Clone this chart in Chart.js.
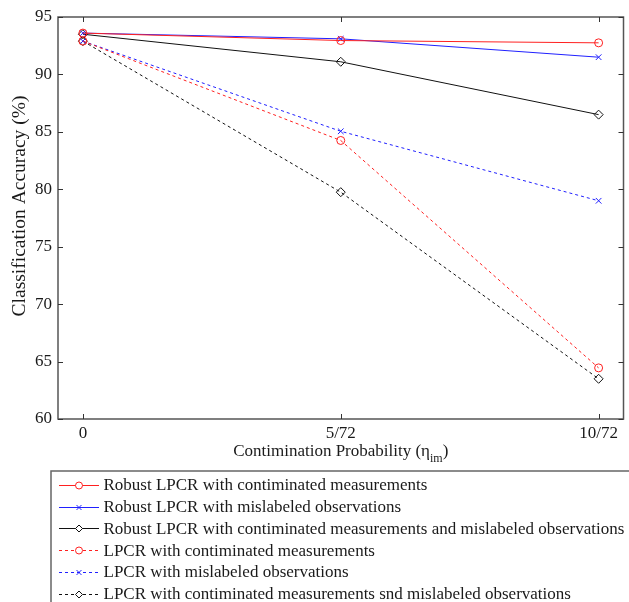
<!DOCTYPE html>
<html>
<head>
<meta charset="utf-8">
<script src="https://cdn.jsdelivr.net/npm/chart.js@4.4.0/dist/chart.umd.min.js"></script>
<style>
  html, body { margin: 0; padding: 0; background: #fff; }
  #wrap { width: 629px; height: 602px; }
</style>
</head>
<body>
<div id="wrap"><canvas id="chart" width="629" height="602"></canvas></div>
<script>
// x positions and their tick labels
const xPositions = [0, 1, 2];
const xTickLabels = ['0', '5/72', '10/72'];
const yTicks = [60, 65, 70, 75, 80, 85, 90, 95];

// accuracy values (%)
const robustContaminated = [93.6, 92.95, 92.75];
const robustMislabeled = [93.6, 93.1, 91.5];
const robustBoth = [93.5, 91.1, 86.5];
const lpcrContaminated = [92.9, 84.25, 64.45];
const lpcrMislabeled = [92.9, 85.05, 79.0];
const lpcrBoth = [92.9, 79.75, 63.5];

const seriesLabels = [
    'Robust LPCR with contiminated measurements',
    'Robust LPCR with mislabeled observations',
    'Robust LPCR with contiminated measurements and mislabeled observations',
    'LPCR with contiminated measurements',
    'LPCR with mislabeled observations',
    'LPCR with contiminated measurements snd mislabeled observations'
];

const FONT = '"Liberation Serif", "Times New Roman", serif';
const TEXT = '#1a1a1a';
const AXIS = '#555';

function toPoints(values) {
    return values.map((v, i) => ({ x: xPositions[i], y: v }));
}

function makeSeries(label, values, color, style, dashed, radius) {
    return {
        label: label,
        data: toPoints(values),
        borderColor: color,
        borderWidth: 1,
        borderDash: dashed ? [3, 3] : [],
        pointStyle: style,
        pointRadius: radius,
        pointBorderColor: color,
        pointBackgroundColor: 'rgba(0,0,0,0)',
        pointBorderWidth: 1,
        tension: 0,
        fill: false
    };
}

// draws the box, inward ticks, axis titles and the legend
const decorations = {
    id: 'decorations',
    afterDraw(chart) {
        const ctx = chart.ctx;
        const area = chart.chartArea;
        const xs = chart.scales.x;
        const ys = chart.scales.y;
        ctx.save();

        // box
        ctx.strokeStyle = AXIS;
        ctx.lineWidth = 1.5;
        ctx.strokeRect(area.left, area.top, area.right - area.left, area.bottom - area.top);

        // inward tick marks on all four sides
        ctx.lineWidth = 1;
        ctx.strokeStyle = '#333';
        ctx.beginPath();
        xPositions.forEach(v => {
            const px = Math.round(xs.getPixelForValue(v)) + 0.5;
            ctx.moveTo(px, area.bottom); ctx.lineTo(px, area.bottom - 5);
            ctx.moveTo(px, area.top); ctx.lineTo(px, area.top + 5);
        });
        yTicks.forEach(v => {
            const py = Math.round(ys.getPixelForValue(v)) + 0.5;
            ctx.moveTo(area.left, py); ctx.lineTo(area.left + 5, py);
            ctx.moveTo(area.right, py); ctx.lineTo(area.right - 5, py);
        });
        ctx.stroke();

        // y axis title
        ctx.fillStyle = TEXT;
        ctx.font = '19.5px ' + FONT;
        ctx.textAlign = 'center';
        ctx.textBaseline = 'middle';
        ctx.save();
        ctx.translate(20, 206);
        ctx.rotate(-Math.PI / 2);
        ctx.fillText('Classification Accuracy (%)', 0, 0);
        ctx.restore();

        // x axis title with subscript
        const main = 'Contimination Probability (\u03B7';
        const sub = 'im';
        ctx.font = '17px ' + FONT;
        const wMain = ctx.measureText(main).width;
        const wClose = ctx.measureText(')').width;
        ctx.font = '12px ' + FONT;
        const wSub = ctx.measureText(sub).width;
        const total = wMain + wSub + wClose;
        let tx = (area.left + area.right) / 2 - total / 2;
        const ty = 452;
        ctx.textAlign = 'left';
        ctx.font = '17px ' + FONT;
        ctx.fillText(main, tx, ty);
        tx += wMain;
        ctx.font = '12px ' + FONT;
        ctx.fillText(sub, tx, ty + 7);
        tx += wSub;
        ctx.font = '17px ' + FONT;
        ctx.fillText(')', tx, ty);

        // legend
        ctx.strokeStyle = '#666';
        ctx.lineWidth = 1.5;
        ctx.strokeRect(51, 471, 640, 200);
        chart.data.datasets.forEach((ds, i) => {
            const y = 485 + i * 21.7;
            ctx.save();
            ctx.strokeStyle = ds.borderColor;
            ctx.lineWidth = 1;
            ctx.setLineDash(ds.borderDash);
            ctx.beginPath();
            ctx.moveTo(59, Math.round(y) + 0.5);
            ctx.lineTo(99, Math.round(y) + 0.5);
            ctx.stroke();
            ctx.setLineDash([]);
            ctx.fillStyle = '#fff';
            ctx.strokeStyle = ds.borderColor;
            Chart.helpers.drawPoint(ctx, {
                pointStyle: ds.pointStyle,
                radius: 3.5,
                rotation: 0,
                borderWidth: 1
            }, 79, Math.round(y) + 0.5);
            ctx.restore();
            ctx.fillStyle = TEXT;
            ctx.font = '17px ' + FONT;
            ctx.textAlign = 'left';
            ctx.textBaseline = 'middle';
            ctx.fillText(ds.label, 103.5, y + 1);
        });
        ctx.restore();
    }
};

const ctx = document.getElementById('chart').getContext('2d');
const chart = new Chart(ctx, {
    type: 'line',
    data: {
        datasets: [
            makeSeries(seriesLabels[0], robustContaminated, '#ff2020', 'circle', false, 4),
            makeSeries(seriesLabels[1], robustMislabeled, '#2020ff', 'crossRot', false, 4),
            makeSeries(seriesLabels[2], robustBoth, '#111111', 'rectRot', false, 4.5),
            makeSeries(seriesLabels[3], lpcrContaminated, '#ff2020', 'circle', true, 4),
            makeSeries(seriesLabels[4], lpcrMislabeled, '#2020ff', 'crossRot', true, 4),
            makeSeries(seriesLabels[5], lpcrBoth, '#111111', 'rectRot', true, 4.5)
        ]
    },
    options: {
        responsive: false,
        animation: false,
        layout: { padding: { top: 17, right: 2, left: 0, bottom: 0 } },
        plugins: {
            legend: { display: false },
            tooltip: { enabled: false }
        },
        scales: {
            x: {
                type: 'linear',
                min: -0.0965,
                max: 2.0965,
                afterBuildTicks: s => { s.ticks = xPositions.map(v => ({ value: v })); },
                afterFit: s => { s.height = 602 - 419; },
                grid: { display: false, drawTicks: false },
                border: { display: false },
                ticks: {
                    autoSkip: false,
                    maxRotation: 0,
                    padding: 4,
                    color: TEXT,
                    font: { family: FONT, size: 17 },
                    callback: (v) => xTickLabels[xPositions.indexOf(v)]
                }
            },
            y: {
                min: 60,
                max: 95,
                afterBuildTicks: s => { s.ticks = yTicks.map(v => ({ value: v })); },
                afterFit: s => { s.width = 58; },
                grid: { display: false, drawTicks: false },
                border: { display: false },
                ticks: {
                    padding: 6,
                    color: TEXT,
                    font: { family: FONT, size: 17 }
                }
            }
        }
    },
    plugins: [decorations]
});
</script>
</body>
</html>
